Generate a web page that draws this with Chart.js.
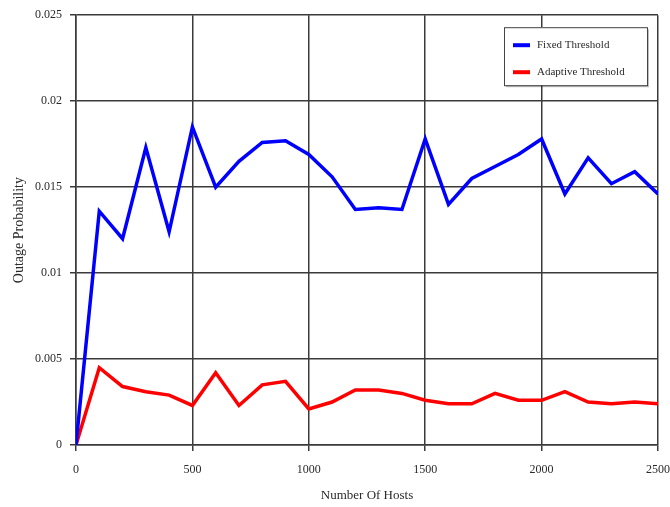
<!DOCTYPE html>
<html>
<head>
<meta charset="utf-8">
<script src="https://cdn.jsdelivr.net/npm/chart.js@4/dist/chart.umd.min.js"></script>
<style>
  html, body { margin: 0; padding: 0; background: #fff; }
  #wrap { width: 670px; height: 507px; }
</style>
</head>
<body>
<div id="wrap"><canvas id="chart"></canvas></div>
<script>
(function () {
  "use strict";

  // ── Data ──
  var hosts = [0, 100, 200, 300, 400, 500, 600, 700, 800, 900, 1000, 1100, 1200,
    1300, 1400, 1500, 1600, 1700, 1800, 1900, 2000, 2100, 2200, 2300, 2400, 2500];
  var fixedThreshold = [0, 0.0136, 0.0120, 0.0173, 0.0124, 0.0185, 0.0150, 0.0165, 0.0176,
    0.0177, 0.0169, 0.0156, 0.0137, 0.0138, 0.0137, 0.0178, 0.0140, 0.0155, 0.0162,
    0.0169, 0.0178, 0.0146, 0.0167, 0.0152, 0.0159, 0.0146];
  var adaptiveThreshold = [0, 0.0045, 0.0034, 0.0031, 0.0029, 0.0023, 0.0042, 0.0023, 0.0035,
    0.0037, 0.0021, 0.0025, 0.0032, 0.0032, 0.0030, 0.0026, 0.0024, 0.0024, 0.0030,
    0.0026, 0.0026, 0.0031, 0.0025, 0.0024, 0.0025, 0.0024];
  var xTicks = [0, 500, 1000, 1500, 2000, 2500];
  var xTickLabels = ["0", "500", "1000", "1500", "2000", "2500"];
  var yTicks = [0, 0.005, 0.01, 0.015, 0.02, 0.025];
  var yTickLabels = ["0", "0.005", "0.01", "0.015", "0.02", "0.025"];

  var SERIF = "'Liberation Serif', 'DejaVu Serif', serif";
  var GRID = "#3a3a3a";
  var TXT = "#2a2a2a";

  function pts(ys) {
    return hosts.map(function (h, i) { return { x: h, y: ys[i] }; });
  }

  function labelFor(list, labels) {
    return function (v) { var i = list.indexOf(v); return i >= 0 ? labels[i] : ""; };
  }

  // ── Legend box drawn inside the plot (top right) ──
  var insideLegend = {
    id: "insideLegend",
    afterDraw: function (chart) {
      var ctx = chart.ctx, area = chart.chartArea;
      var w = 143, h = 58;
      var x = area.right - 11 - w, y = area.top + 12;
      ctx.save();
      ctx.fillStyle = "rgba(0,0,0,0.25)";
      ctx.fillRect(x + 2, y + 2, w, h);
      ctx.fillStyle = "#fff";
      ctx.fillRect(x, y, w, h);
      ctx.strokeStyle = "#444";
      ctx.lineWidth = 1;
      ctx.strokeRect(x + 0.5, y + 0.5, w, h);
      ctx.font = "11px " + SERIF;
      ctx.textBaseline = "middle";
      chart.data.datasets.forEach(function (ds, i) {
        var ly = y + 18 + i * 27;
        ctx.strokeStyle = ds.borderColor;
        ctx.lineWidth = 4;
        ctx.beginPath();
        ctx.moveTo(x + 9, ly);
        ctx.lineTo(x + 26, ly);
        ctx.stroke();
        ctx.fillStyle = TXT;
        ctx.fillText(ds.label, x + 33, ly);
      });
      ctx.restore();
    }
  };

  new Chart(document.getElementById("chart"), {
    type: "line",
    data: {
      datasets: [
        { label: "Fixed Threshold", data: pts(fixedThreshold), borderColor: "#0000ff",
          borderWidth: 3.5, pointRadius: 0, tension: 0 },
        { label: "Adaptive Threshold", data: pts(adaptiveThreshold), borderColor: "#ff0000",
          borderWidth: 3.5, pointRadius: 0, tension: 0 }
      ]
    },
    options: {
      responsive: true, maintainAspectRatio: false, animation: false,
      layout: { padding: { top: 13, right: 12, left: 0, bottom: 0 } },
      plugins: { legend: { display: false }, tooltip: { enabled: false } },
      scales: {
        x: {
          type: "linear", min: 0, max: 2500,
          afterBuildTicks: function (s) { s.ticks = xTicks.map(function (v) { return { value: v }; }); },
          afterFit: function (s) { s.height = 62; s.paddingRight = 0; },
          grid: { color: GRID, lineWidth: 1.5, tickLength: 6, tickColor: GRID },
          border: { color: GRID, width: 1.5 },
          ticks: { color: TXT, font: { family: SERIF, size: 12 }, padding: 12, maxRotation: 0,
            callback: labelFor(xTicks, xTickLabels) },
          title: { display: true, text: "Number Of Hosts", color: TXT,
            font: { family: SERIF, size: 13 }, padding: { top: 3 } }
        },
        y: {
          min: 0, max: 0.025,
          afterBuildTicks: function (s) { s.ticks = yTicks.map(function (v) { return { value: v }; }); },
          afterFit: function (s) { s.width = 76; },
          grid: { color: GRID, lineWidth: 1.5, tickLength: 6, tickColor: GRID },
          border: { color: GRID, width: 1.5 },
          ticks: { color: TXT, font: { family: SERIF, size: 12 }, padding: 8,
            callback: labelFor(yTicks, yTickLabels) },
          title: { display: true, text: "Outage Probability", color: TXT,
            font: { family: SERIF, size: 14 }, padding: { top: 11, bottom: 0 } }
        }
      }
    },
    plugins: [insideLegend]
  });
})();
</script>
</body>
</html>
